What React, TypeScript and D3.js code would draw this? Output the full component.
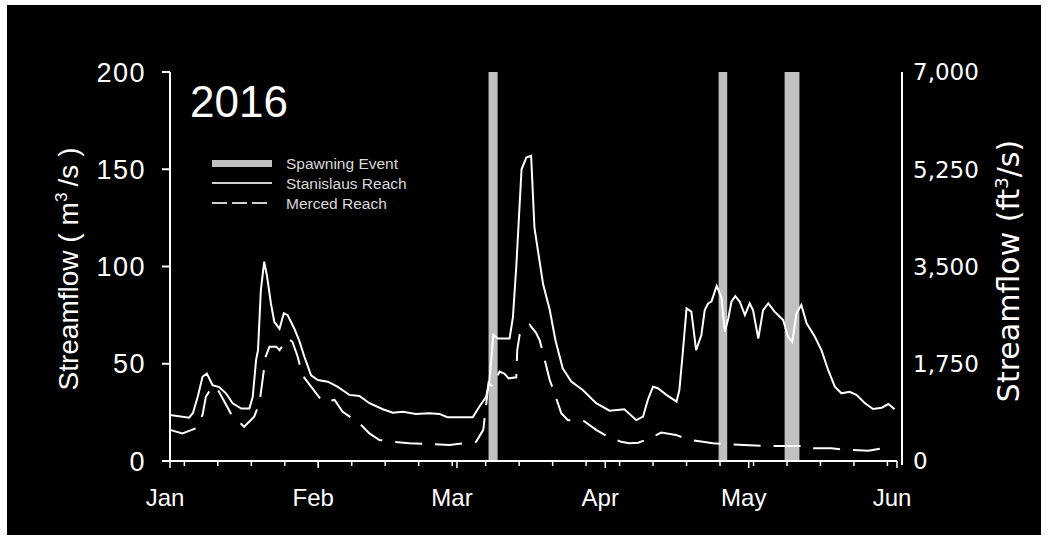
import React from "react";
import * as d3 from "d3";

// ---------- data ----------
const monthLabels = ["Jan", "Feb", "Mar", "Apr", "May", "Jun"];
const leftTicks = [0, 50, 100, 150, 200];
const rightTicks = [0, 1750, 3500, 5250, 7000];

// spawning events (day offset from 1 Jan 2016)
const spawnStart = [66.6, 114.7, 128.5];
const spawnEnd = [68.5, 116.5, 131.6];

// Stanislaus Reach streamflow (m3/s)
const stanDay = [
  0, 4, 4.8, 5.8, 6.8, 7.7, 8.9, 10.3, 11.7, 13.1, 14.9, 16.6, 17.3, 18, 18.4, 19, 19.7, 20.3, 21.1, 21.8,
  22.9, 23.8, 24.6, 26, 27, 28.1, 29.5, 30.9, 33, 35, 37.5, 39.6, 41.7, 44.5, 46.6, 48.7, 51.4, 54.2, 56.3, 58,
  63.3, 64.7, 66.1, 66.8, 67.6, 68.5, 71, 71.7, 72.4, 73.5, 74.5, 75.5, 76.2, 77, 78, 79.4, 80.6, 82.1, 83.9, 86.3,
  89.1, 91.9, 95, 97.5, 98.9, 99.9, 101, 102, 103.8, 105.9, 106.5, 107.2, 108, 109, 110, 111.1, 111.8, 112.5, 113.2, 114.3,
  115.3, 116, 116.7, 117.4, 118.2, 119.1, 120.2, 121.2, 121.9, 123, 124, 125.1, 126.4, 128.2, 129.2, 130.1, 131, 132, 133.1, 134.8,
  136.2, 137.6, 139, 140.4, 142.1, 143.5, 145.3, 147, 148.8, 150.2, 151.5,
];
const stanFlow = [
  23.6, 22.3, 24.7, 33, 43.3, 45, 39, 38, 34.8, 29.7, 27, 27, 33, 52, 57, 88, 102.5, 94.8, 81, 71.6,
  68, 76, 75, 68, 62, 53.6, 44, 41.6, 40.8, 38.2, 34, 33.4, 29.7, 26.6, 24.8, 25.3, 24.2, 24.5, 24.2, 22.5,
  22.5, 28, 33, 41.6, 64.8, 63, 63, 74, 100, 150, 156, 157, 120, 107, 91, 77.6, 62, 47.7, 40.8, 36.5,
  29.7, 25.9, 26.6, 21, 22.8, 31.4, 38.2, 37.4, 34, 30.5, 36.5, 55.4, 78.5, 76.8, 57, 64.8, 77.6, 81, 82, 90,
  84, 66.5, 73, 82, 84.8, 82, 75, 81, 77.6, 63, 77.6, 81, 76.8, 72.5, 64, 61.3, 76, 80.2, 70.8, 64,
  57, 46.8, 38.2, 34.8, 35.6, 34, 29.7, 26.7, 27.4, 29.3, 26.6,
];

// Merced Reach streamflow (m3/s)
const mercedDay = [
  0, 2.6, 5.4, 6.8, 7.5, 8.6, 9.7, 12.7, 15.5, 17.6, 18.7, 19.4, 20, 20.8, 22.2, 22.9, 24.6, 25.6, 26.7, 27.7,
  29.5, 31.9, 34.4, 36.1, 38.6, 39.6, 41.7, 43.8, 46.6, 50, 55, 58.4, 64, 65.5, 66.6, 67.5, 68.9, 69.9, 70.8, 72.4,
  72.6, 73.1, 75.2, 76.5, 77.3, 78, 79.4, 80.4, 81.8, 83.2, 86.3, 89.1, 91.5, 94.3, 96, 97.9, 99.9, 102.7, 105.8, 108.6,
  111.4, 113.5, 116.7, 120, 125, 132, 133.1, 138.3, 141.8, 146, 148.8, 150.2,
];
const mercedFlow = [
  16, 14.2, 16.8, 23.7, 33, 37.4, 38, 24.5, 17.6, 22.8, 29.7, 42.5, 53.6, 58.8, 58.8, 57, 63, 61.3, 53.6, 44,
  38.2, 30.5, 31.4, 25.3, 21, 19.4, 14.2, 10.8, 9.9, 9.1, 8.7, 8.2, 9.9, 16, 40, 38.2, 46, 45, 42.5, 43,
  57, 64.8, 70, 66, 62, 55.4, 41.6, 34.8, 24.6, 21, 21, 16, 12.5, 9.9, 9.1, 9.4, 11.2, 14.6, 13.4, 10.8,
  9.9, 9.1, 8.7, 8.2, 7.7, 7.7, 6.5, 6.5, 5.7, 5.3, 6.5, 6.5,
];

// ---------- chart ----------
const W = 1048;
const H = 540;
const t0 = Date.UTC(2016, 0, 1);
const tEnd = Date.UTC(2016, 5, 1);
const dayToDate = (d: number) => new Date(t0 + d * 864e5);

const ARIAL = "'Liberation Sans', Arial, sans-serif";
const VERD = "'DejaVu Sans', Verdana, sans-serif";

export default function App() {
  const x = d3.scaleUtc().domain([new Date(t0), new Date(tEnd)]).range([170, 897]);
  const y = d3.scaleLinear().domain([0, 200]).range([461, 72]);
  const y2 = d3.scaleLinear().domain([0, 7000]).range([461, 72]);

  const line = d3
    .line<[number, number]>()
    .x((d) => x(dayToDate(d[0])))
    .y((d) => y(d[1]));

  const stanPts = stanDay.map((d, i) => [d, stanFlow[i]] as [number, number]);
  const mercPts = mercedDay.map((d, i) => [d, mercedFlow[i]] as [number, number]);

  const mondays = d3.utcMonday.range(new Date(t0), new Date(tEnd + 1));
  const months = d3.utcMonth.range(new Date(t0), new Date(tEnd + 1));
  const fmt = d3.format(",");

  const x0 = 170;
  const yBase = y(0);

  return (
    <div style={{ position: "absolute", left: 0, top: 0, width: W, height: H, background: "#fff" }}>
      <svg width={W} height={H} style={{ display: "block" }}>
        <rect x={7} y={5} width={1034} height={530} fill="#000" />

        {/* spawning bars */}
        {spawnStart.map((s, i) => (
          <rect
            key={"sp" + i}
            x={x(dayToDate(s))}
            y={y(200)}
            width={x(dayToDate(spawnEnd[i])) - x(dayToDate(s))}
            height={yBase - y(200)}
            fill="#c0c0c0"
          />
        ))}

        {/* lines */}
        <path d={line(mercPts) || ""} fill="none" stroke="#fff" strokeWidth={2} strokeDasharray="27 13" />
        <path d={line(stanPts) || ""} fill="none" stroke="#fff" strokeWidth={2} />

        {/* left axis */}
        <line x1={x0} x2={x0} y1={y(200)} y2={yBase} stroke="#fff" strokeWidth={2} />
        {leftTicks.map((t) => (
          <g key={"lt" + t}>
            <line x1={x0 - 8} x2={x0} y1={y(t)} y2={y(t)} stroke="#fff" strokeWidth={2} />
            <text
              x={146}
              y={y(t)}
              dy="0.36em"
              textAnchor="end"
              fill="#fff"
              fontFamily={ARIAL}
              fontSize={27}
              letterSpacing={1.5}
            >
              {t}
            </text>
          </g>
        ))}

        {/* right axis */}
        <line x1={902} x2={902} y1={y2(7000)} y2={yBase + 4} stroke="#fff" strokeWidth={2} />
        {rightTicks.map((t) => (
          <text
            key={"rt" + t}
            x={913}
            y={y2(t)}
            dy="0.36em"
            textAnchor="start"
            fill="#fff"
            fontFamily={VERD}
            fontSize={23}
          >
            {fmt(t)}
          </text>
        ))}

        {/* x axis */}
        <line x1={x0 - 8} x2={x(new Date(tEnd))} y1={yBase} y2={yBase} stroke="#fff" strokeWidth={2} />
        {mondays.map((m, i) => (
          <line key={"wk" + i} x1={x(m)} x2={x(m)} y1={yBase} y2={yBase + 5} stroke="#fff" strokeWidth={1.5} />
        ))}
        {months.map((m, i) => (
          <g key={"mo" + i}>
            <line x1={x(m)} x2={x(m)} y1={yBase} y2={yBase + 7} stroke="#fff" strokeWidth={1.5} />
            <text
              x={x(m) - 5}
              y={506}
              textAnchor="middle"
              fill="#fff"
              fontFamily={ARIAL}
              fontSize={24}
            >
              {monthLabels[i]}
            </text>
          </g>
        ))}

        {/* year label */}
        <text x={190} y={117} fill="#fff" fontFamily={ARIAL} fontSize={44}>
          2016
        </text>

        {/* legend */}
        <line x1={212} x2={272} y1={163.5} y2={163.5} stroke="#c0c0c0" strokeWidth={7} />
        <line x1={212} x2={272} y1={183} y2={183} stroke="#d0d0d0" strokeWidth={2} />
        <line x1={212} x2={272} y1={203} y2={203} stroke="#d0d0d0" strokeWidth={2} strokeDasharray="15 5" />
        {["Spawning Event", "Stanislaus Reach", "Merced Reach"].map((s, i) => (
          <text
            key={"lg" + i}
            x={286}
            y={163.5 + i * 19.8}
            dy="0.36em"
            fill="#d9d9d9"
            fontFamily={ARIAL}
            fontSize={15.5}
          >
            {s}
          </text>
        ))}

        {/* axis titles */}
        <text
          transform="translate(78,269) rotate(-90)"
          textAnchor="middle"
          fill="#fff"
          fontFamily={ARIAL}
          fontSize={28}
        >
          Streamflow (
          <tspan dx={8}>m</tspan>
          <tspan dy={-11} fontSize={17}>
            3
          </tspan>
          <tspan dy={11} dx={6}>
            /s
          </tspan>
          <tspan dx={8}>)</tspan>
        </text>
        <text
          transform="translate(1019,271) rotate(-90)"
          textAnchor="middle"
          fill="#fff"
          fontFamily={VERD}
          fontSize={30}
        >
          Streamflow (ft
          <tspan dy={-11} fontSize={18}>
            3
          </tspan>
          <tspan dy={11}>/s)</tspan>
        </text>
      </svg>
    </div>
  );
}
